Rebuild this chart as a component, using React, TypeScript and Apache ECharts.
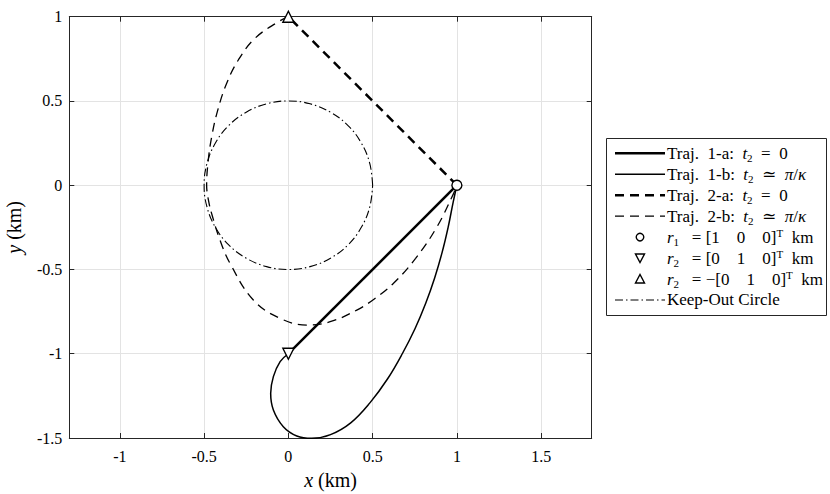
import React, { useEffect, useRef } from 'react';
import * as echarts from 'echarts';

// ---- data ----
const xRange = [-1.3, 1.8];
const yRange = [-1.5, 1];
const xTicks = [-1, -0.5, 0, 0.5, 1, 1.5];
const yTicks = [-1.5, -1, -0.5, 0, 0.5, 1];

const traj1a = [[1, 0], [0, -1]];
const traj1b = [
  [1, 0], [0.978, -0.1], [0.948, -0.25], [0.912, -0.4], [0.868, -0.55], [0.815, -0.7],
  [0.752, -0.85], [0.676, -1.0], [0.588, -1.15], [0.485, -1.29], [0.37, -1.41],
  [0.25, -1.48], [0.139, -1.502], [0.05, -1.488], [-0.03, -1.433], [-0.089, -1.334],
  [-0.105, -1.235], [-0.089, -1.136], [-0.049, -1.047], [0, -1],
];
const traj2a = [[1, 0], [0, 1]];
const traj2b = [
  [0, 1], [-0.059, 0.97], [-0.198, 0.872], [-0.297, 0.743], [-0.366, 0.605], [-0.419, 0.446],
  [-0.455, 0.288], [-0.475, 0.15], [-0.485, 0.0], [-0.472, -0.1], [-0.452, -0.18],
  [-0.406, -0.325], [-0.346, -0.464], [-0.208, -0.681], [-0.049, -0.79], [0.109, -0.83],
  [0.248, -0.81], [0.406, -0.741], [0.51, -0.675], [0.624, -0.582], [0.755, -0.434],
  [0.88, -0.25], [0.98, -0.05], [1, 0],
];
const keepOut = [
  [0.5, 0], [0.483, 0.129], [0.433, 0.25], [0.354, 0.354], [0.25, 0.433], [0.129, 0.483],
  [0, 0.5], [-0.129, 0.483], [-0.25, 0.433], [-0.354, 0.354], [-0.433, 0.25], [-0.483, 0.129],
  [-0.5, 0], [-0.483, -0.129], [-0.433, -0.25], [-0.354, -0.354], [-0.25, -0.433], [-0.129, -0.483],
  [0, -0.5], [0.129, -0.483], [0.25, -0.433], [0.354, -0.354], [0.433, -0.25], [0.483, -0.129],
  [0.5, 0],
];
const r1Point = [[1, 0]];
const r2Point = [[0, -1]];
const r2NegPoint = [[0, 1]];

const S = '\u00a0';
const legendLabels = [
  `Traj.${S}${S}1-a:${S}${S}{it|t}{sub|2}${S}${S}=${S}${S}0`,
  `Traj.${S}${S}1-b:${S}${S}{it|t}{sub|2}${S}${S}≃${S}${S}{it|π}/{it|κ}`,
  `Traj.${S}${S}2-a:${S}${S}{it|t}{sub|2}${S}${S}=${S}${S}0`,
  `Traj.${S}${S}2-b:${S}${S}{it|t}{sub|2}${S}${S}≃${S}${S}{it|π}/{it|κ}`,
  `{it|r}{sub|1}${S}${S}${S}=${S}[1${S}${S}${S}${S}0${S}${S}${S}${S}0]{sup|T}${S}${S}km`,
  `{it|r}{sub|2}${S}${S}${S}=${S}[0${S}${S}${S}${S}1${S}${S}${S}${S}0]{sup|T}${S}${S}km`,
  `{it|r}{sub|2}${S}${S}${S}=${S}−[0${S}${S}${S}${S}1${S}${S}${S}${S}0]{sup|T}${S}${S}km`,
  'Keep-Out Circle',
];

const FONT = '"Liberation Serif", "DejaVu Serif", serif';
const AX = '#262626';
const GRID = '#e3e3e3';

export default function App() {
  const ref = useRef<HTMLDivElement>(null);
  useEffect(() => {
    if (!ref.current) return;
    const chart = echarts.init(ref.current, undefined, { renderer: 'svg' });

    const richText = {
      it: { fontStyle: 'italic', fontFamily: FONT, fontSize: 17, fill: '#000' },
      sub: { fontFamily: FONT, fontSize: 11, lineHeight: 12, verticalAlign: 'bottom', fill: '#000' },
      sup: { fontFamily: FONT, fontSize: 11, lineHeight: 10, verticalAlign: 'top', fill: '#000' },
    };

    const lx1 = 615, lx2 = 665, ltx = 667, ly0 = 153.3, ldy = 20.95;
    const legendGraphics: any[] = [
      {
        type: 'rect', z: 100,
        shape: { x: 606.5, y: 138.5, width: 220, height: 177 },
        style: { fill: '#fff', stroke: AX, lineWidth: 1 },
      },
    ];
    const lineStyles = [
      { lineWidth: 2.5, lineDash: null },
      { lineWidth: 1.3, lineDash: null },
      { lineWidth: 2.5, lineDash: [9, 6] },
      { lineWidth: 1.3, lineDash: [9, 6] },
    ];
    lineStyles.forEach((s, i) => {
      legendGraphics.push({
        type: 'line', z: 101,
        shape: { x1: lx1, y1: ly0 + i * ldy, x2: lx2, y2: ly0 + i * ldy },
        style: { stroke: '#000', lineWidth: s.lineWidth, lineDash: s.lineDash },
      });
    });
    legendGraphics.push({
      type: 'line', z: 101,
      shape: { x1: lx1, y1: ly0 + 7 * ldy, x2: lx2, y2: ly0 + 7 * ldy },
      style: { stroke: '#000', lineWidth: 1.1, lineDash: [8, 3, 1.5, 3] },
    });
    const mx = 640;
    legendGraphics.push({
      type: 'circle', z: 101,
      shape: { cx: mx, cy: ly0 + 4 * ldy, r: 3.8 },
      style: { fill: '#fff', stroke: '#000', lineWidth: 1.4 },
    });
    const yd = ly0 + 5 * ldy;
    legendGraphics.push({
      type: 'polygon', z: 101,
      shape: { points: [[mx - 4.5, yd - 4], [mx + 4.5, yd - 4], [mx, yd + 4.5]] },
      style: { fill: '#fff', stroke: '#000', lineWidth: 1.4 },
    });
    const yu = ly0 + 6 * ldy;
    legendGraphics.push({
      type: 'polygon', z: 101,
      shape: { points: [[mx - 4.5, yu + 4], [mx + 4.5, yu + 4], [mx, yu - 4.5]] },
      style: { fill: '#fff', stroke: '#000', lineWidth: 1.4 },
    });
    legendLabels.forEach((t, i) => {
      legendGraphics.push({
        type: 'text', z: 101,
        x: ltx, y: ly0 + i * ldy,
        style: {
          text: t, rich: richText, fontFamily: FONT, fontSize: 17, fill: '#000',
          verticalAlign: 'middle', align: 'left', lineHeight: 20,
        },
      });
    });

    const boxAxis = {
      axisLine: { show: true, onZero: false, lineStyle: { color: AX, width: 1 } },
      axisTick: { show: true, inside: true, length: 5, lineStyle: { color: AX, width: 1 } },
    };
    const markerStyle = { color: '#fff', borderColor: '#000', borderWidth: 1.4, opacity: 1 };
    const nameStyle = {
      fontSize: 20, fontFamily: FONT, color: '#000',
      rich: { it: { fontStyle: 'italic', fontSize: 20, fontFamily: FONT, color: '#000' } },
    };

    const option: any = {
      animation: false,
      backgroundColor: '#fff',
      textStyle: { fontFamily: FONT },
      grid: {
        left: 69.3, top: 16.7, right: 238.3, bottom: 56,
        containLabel: false, outerBoundsMode: 'none',
      },
      xAxis: [
        {
          type: 'value', position: 'bottom', min: xRange[0], max: xRange[1],
          ...boxAxis,
          axisTick: { ...boxAxis.axisTick, customValues: xTicks },
          axisLabel: { customValues: xTicks, color: '#000', fontSize: 16, fontFamily: FONT, margin: 10 },
          splitLine: { show: true, lineStyle: { color: GRID, width: 1 } },
          name: '{it|x} (km)', nameLocation: 'middle', nameGap: 32,
          nameTextStyle: nameStyle,
        },
        {
          type: 'value', position: 'top', min: xRange[0], max: xRange[1],
          ...boxAxis,
          axisTick: { ...boxAxis.axisTick, customValues: xTicks },
          axisLabel: { show: false },
          splitLine: { show: false },
        },
      ],
      yAxis: [
        {
          type: 'value', position: 'left', min: yRange[0], max: yRange[1], interval: 0.5,
          ...boxAxis,
          axisTick: { ...boxAxis.axisTick, customValues: yTicks },
          axisLabel: { customValues: yTicks, color: '#000', fontSize: 16, fontFamily: FONT, margin: 7 },
          splitLine: { show: true, lineStyle: { color: GRID, width: 1 } },
          name: '{it|y} (km)', nameLocation: 'middle', nameGap: 45, nameRotate: 90,
          nameTextStyle: nameStyle,
        },
        {
          type: 'value', position: 'right', min: yRange[0], max: yRange[1], interval: 0.5,
          ...boxAxis,
          axisTick: { ...boxAxis.axisTick, customValues: yTicks },
          axisLabel: { show: false },
          splitLine: { show: false },
        },
      ],
      series: [
        {
          name: 'Keep-Out Circle', type: 'line', data: keepOut, smooth: 0.4, symbol: 'none',
          lineStyle: { color: '#000', width: 1.1, type: [8, 3, 1.5, 3] }, z: 2, clip: false,
        },
        {
          name: 'Traj. 2-b', type: 'line', data: traj2b, smooth: 0.4, symbol: 'none',
          lineStyle: { color: '#000', width: 1.3, type: [9, 6] }, z: 3, clip: false,
        },
        {
          name: 'Traj. 1-b', type: 'line', data: traj1b, smooth: 0.4, symbol: 'none',
          lineStyle: { color: '#000', width: 1.5 }, z: 3, clip: false,
        },
        {
          name: 'Traj. 1-a', type: 'line', data: traj1a, symbol: 'none',
          lineStyle: { color: '#000', width: 2.5 }, z: 4,
        },
        {
          name: 'Traj. 2-a', type: 'line', data: traj2a, symbol: 'none',
          lineStyle: { color: '#000', width: 2.5, type: [9, 6] }, z: 4,
        },
        {
          name: 'r1', type: 'scatter', data: r1Point, symbol: 'circle', symbolSize: 10,
          itemStyle: markerStyle, z: 10,
        },
        {
          name: 'r2', type: 'scatter', data: r2Point, symbol: 'triangle', symbolSize: 11, symbolRotate: 180,
          itemStyle: markerStyle, z: 10,
        },
        {
          name: '-r2', type: 'scatter', data: r2NegPoint, symbol: 'triangle', symbolSize: 11,
          itemStyle: markerStyle, z: 10,
        },
      ],
      graphic: legendGraphics,
    };
    chart.setOption(option);
    return () => chart.dispose();
  }, []);
  return (
    <div
      ref={ref}
      style={{ position: 'fixed', left: 0, top: 0, width: 830, height: 494, background: '#fff' }}
    />
  );
}
